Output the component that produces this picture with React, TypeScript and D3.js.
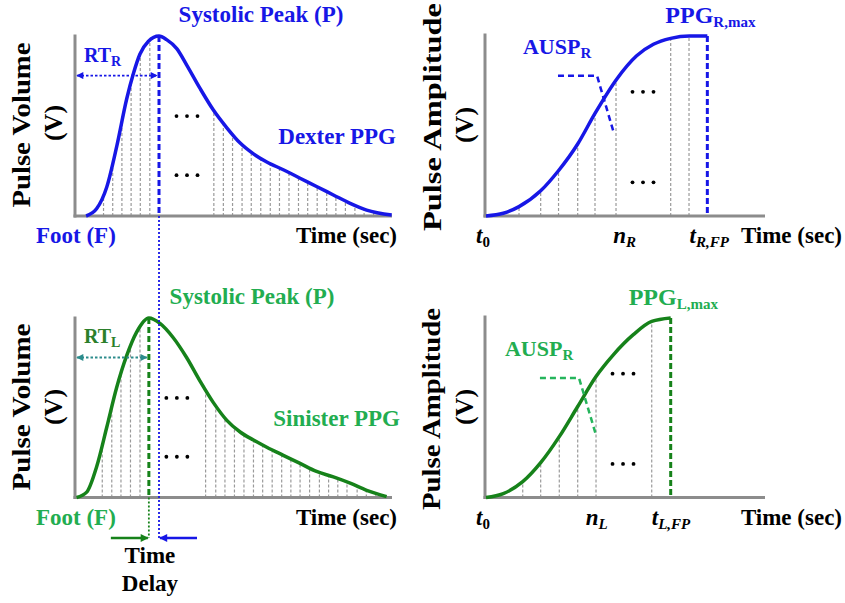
import * as d3 from 'd3';

// ---- values ----
// dexter (right hand) PPG pulse: time in ms, volume normalised to the systolic peak
const dexterTime = [35, 68, 100, 132, 163, 184, 205, 231, 265, 289, 321, 352, 394, 436, 479, 521, 563, 605, 657, 710, 762, 815, 868, 920, 999];
const dexterVolume = [0, 0.04, 0.16, 0.39, 0.65, 0.79, 0.9, 0.97, 1, 0.98, 0.93, 0.84, 0.71, 0.59, 0.49, 0.405, 0.345, 0.3, 0.257, 0.21, 0.164, 0.117, 0.07, 0.033, 0.005];
const dexterSamples = [90, 119, 148, 177, 206, 236, 438, 468, 497, 527, 556, 586, 616, 645, 675, 705, 734, 764, 794, 823, 853, 883, 912, 942, 972];

// sinister (left hand) PPG pulse
const sinisterTime = [5, 37, 68, 100, 131, 163, 194, 233, 268, 310, 352, 394, 436, 479, 521, 563, 605, 657, 710, 762, 815, 868, 920, 983];
const sinisterVolume = [0, 0.03, 0.17, 0.39, 0.61, 0.79, 0.92, 1, 0.97, 0.89, 0.78, 0.65, 0.53, 0.43, 0.365, 0.32, 0.28, 0.235, 0.19, 0.145, 0.115, 0.08, 0.04, 0.005];
const sinisterSamples = [86, 116, 145, 175, 205, 412, 444, 473, 503, 533, 563, 592, 622, 652, 681, 710, 740, 771, 800, 829, 858, 890, 919, 949];

// systolic upstroke, foot to peak (ms, normalised amplitude)
const upDexterTime = [0, 18.6, 35.5, 58.8, 77.7, 98.6, 117.2, 140.5, 162, 180, 198.6, 218.6, 238];
const upDexterAmp = [0, 0.015, 0.052, 0.14, 0.25, 0.4, 0.57, 0.76, 0.89, 0.954, 0.987, 1, 1];
const upDexterSamples = [35.5, 58.8, 78, 98.6, 117.2, 139.8, 198.6, 218.3];
const upDexterPointerT = [77.4, 119.4, 137.6];
const upDexterPointerA = [0.779, 0.779, 0.459];
const upDexterTicks = [0, 149, 240];

const upSinisterTime = [0, 18.6, 39.5, 58.8, 78.8, 98.6, 118.3, 136.9, 158.4, 178.2, 198.6];
const upSinisterAmp = [0, 0.022, 0.088, 0.194, 0.339, 0.507, 0.674, 0.795, 0.907, 0.981, 1];
const upSinisterSamples = [39.5, 58.8, 78.8, 98.6, 118.3, 178.2];
const upSinisterPointerT = [58, 100, 118.3];
const upSinisterPointerA = [0.666, 0.666, 0.348];
const upSinisterTicks = [0, 119, 199];

const FONT = '"Liberation Serif", "Times New Roman", Times, serif';
const BLUE = '#1717e6';
const GREEN = '#16821a';
const GREEN_TEXT = '#22ad50';
const GREEN_DARK = '#2b7f2b';
const TEAL = '#2c8c8c';
const AXIS = '#8c8c8c';
const SAMPLE = '#9a9a9a';

const xPulse = d3.scaleLinear().domain([0, 1000]).range([75, 392]);
const xUp = d3.scaleLinear().domain([0, 300]).range([486, 765]);
const yTopRow = d3.scaleLinear().domain([0, 1]).range([216, 36]);
const yBottomRow = d3.scaleLinear().domain([0, 1]).range([497.5, 318]);
const DELAY_Y = 538;

type Pt = [number, number];
type YScale = d3.ScaleLinear<number, number>;

const Arrowhead = ({ id, color, w = 9, h = 8 }: { id: string; color: string; w?: number; h?: number }) => (
  <marker id={id} viewBox="0 0 10 10" refX="9" refY="5" markerUnits="userSpaceOnUse"
    markerWidth={w} markerHeight={h} orient="auto-start-reverse">
    <path d="M0,0L10,5L0,10z" fill={color} />
  </marker>
);

const Dots = ({ cx, cy }: { cx: number; cy: number }) => (
  <g fill="#000">
    {[-1, 0, 1].map(k => <circle key={k} cx={cx + k * 10.5} cy={cy} r={1.9} />)}
  </g>
);

interface PulseProps {
  id: string; y: YScale; time: number[]; values: number[]; samples: number[];
  color: string; textColor: string; rtColor: string; rtTextColor: string;
  rtSub: string; name: string; nameEnd: number; peakLabelX: number;
}

function PulsePanel(p: PulseProps) {
  const x = xPulse;
  const base = p.y(0);
  const pts: Pt[] = p.time.map((t, i) => [t, p.values[i]]);
  const line = d3.line<Pt>().x(d => x(d[0])).y(d => p.y(d[1])).curve(d3.curveMonotoneX);
  const area = d3.area<Pt>().x(d => x(d[0])).y0(base).y1(d => p.y(d[1])).curve(d3.curveMonotoneX);
  const peakX = x(p.time[d3.maxIndex(p.values)]);
  const top = p.y(1) - 1.5;
  const x0 = x.range()[0];
  const rtY = p.y(0.78);
  return (
    <g>
      <defs><clipPath id={`clip-${p.id}`}><path d={area(pts)!} /></clipPath></defs>
      <g clipPath={`url(#clip-${p.id})`} stroke={SAMPLE} strokeWidth={1.2} strokeDasharray="3,2">
        {p.samples.map(s => <line key={s} x1={x(s)} x2={x(s)} y1={base} y2={top} />)}
      </g>
      <g stroke={AXIS} strokeWidth={3}>
        <line x1={x0} x2={x0} y1={top} y2={base + 1.5} />
        <line x1={x0 - 1.5} x2={x.range()[1]} y1={base} y2={base} />
      </g>
      <path d={line(pts)!} fill="none" stroke={p.color} strokeWidth={3.5} strokeLinejoin="round" />
      <line x1={peakX} x2={peakX} y1={p.y(1)} y2={base} stroke={p.color} strokeWidth={3} strokeDasharray="6,3" />
      <line x1={x0 + 2} x2={peakX - 2} y1={rtY} y2={rtY} stroke={p.rtColor} strokeWidth={1.8} strokeDasharray="2.5,2"
        markerStart={`url(#ah-${p.id})`} markerEnd={`url(#ah-${p.id})`} />
      <Dots cx={peakX + 28} cy={p.y(0.555)} />
      <Dots cx={peakX + 28} cy={p.y(0.227)} />
      <g fontFamily={FONT} fontWeight="bold">
        <text x={x0 + 9} y={rtY - 14} fontSize={20} fill={p.rtTextColor}>RT<tspan dy={4} fontSize={14}>{p.rtSub}</tspan></text>
        <text x={p.peakLabelX} y={base - 194} fontSize={23} fill={p.textColor} textAnchor="middle">Systolic Peak (P)</text>
        <text x={p.nameEnd} y={base - 72} fontSize={23} fill={p.textColor} textAnchor="end">{p.name}</text>
        <text x={36} y={base + 27} fontSize={23} fill={p.textColor}>Foot (F)</text>
        <text x={397} y={base + 27} fontSize={23} fill="#000" textAnchor="end">Time (sec)</text>
      </g>
    </g>
  );
}

interface UpProps {
  id: string; y: YScale; time: number[]; values: number[]; samples: number[];
  pointerT: number[]; pointerA: number[]; ticks: number[];
  color: string; dashColor: string; textColor: string; pointerColor: string; side: string;
}

function UpstrokePanel(p: UpProps) {
  const x = xUp;
  const base = p.y(0);
  const pts: Pt[] = p.time.map((t, i) => [t, p.values[i]]);
  const line = d3.line<Pt>().x(d => x(d[0])).y(d => p.y(d[1])).curve(d3.curveMonotoneX);
  const area = d3.area<Pt>().x(d => x(d[0])).y0(base).y1(d => p.y(d[1])).curve(d3.curveMonotoneX);
  const pointer = d3.line<Pt>().x(d => x(d[0])).y(d => p.y(d[1]));
  const pointerPts: Pt[] = p.pointerT.map((t, i) => [t, p.pointerA[i]]);
  const fpX = x(p.time[p.time.length - 1]);
  const top = p.y(1) - 1.5;
  const x0 = x.range()[0] - 1;
  const nSample = p.samples.filter(s => s < 150).slice(-1)[0];
  const [t0Tick, nTick, fpTick] = p.ticks;
  return (
    <g>
      <defs><clipPath id={`clip-${p.id}`}><path d={area(pts)!} /></clipPath></defs>
      <g clipPath={`url(#clip-${p.id})`} stroke={SAMPLE} strokeWidth={1.2} strokeDasharray="3,2">
        {p.samples.map(s => <line key={s} x1={x(s)} x2={x(s)} y1={base} y2={top - 3} />)}
      </g>
      <g stroke={AXIS} strokeWidth={3}>
        <line x1={x0} x2={x0} y1={top - 1} y2={base + 1.5} />
        <line x1={x0 - 1.5} x2={x.range()[1]} y1={base} y2={base} />
      </g>
      <path d={line(pts)!} fill="none" stroke={p.color} strokeWidth={3.5} strokeLinejoin="round" />
      <line x1={fpX} x2={fpX} y1={p.y(1)} y2={base} stroke={p.dashColor} strokeWidth={3} strokeDasharray="6,3" />
      <path d={pointer(pointerPts)!} fill="none" stroke={p.pointerColor} strokeWidth={2.5} strokeDasharray="6,4" />
      <Dots cx={x(nSample) + 27} cy={p.y(0.69)} />
      <Dots cx={x(nSample) + 27} cy={p.y(0.187)} />
      <g fontFamily={FONT} fontWeight="bold">
        <text x={fpX - 42} y={base - 193} fontSize={24} fill={p.textColor}>PPG<tspan dy={4} fontSize={15}>{`${p.side},max`}</tspan></text>
        <text x={x(p.pointerT[0]) - 35} y={p.y(p.pointerA[0]) - 22} fontSize={22} fill={p.textColor}>AUSP<tspan dy={4} fontSize={15}>R</tspan></text>
        <text x={x(t0Tick) - 3} y={base + 27} fontSize={23} textAnchor="middle"><tspan fontStyle="italic">t</tspan><tspan dy={4} fontSize={15}>0</tspan></text>
        <text x={x(nTick)} y={base + 27} fontSize={23} textAnchor="middle" fontStyle="italic">n<tspan dy={4} fontSize={15}>{p.side}</tspan></text>
        <text x={x(fpTick)} y={base + 27} fontSize={23} textAnchor="middle" fontStyle="italic">t<tspan dy={4} fontSize={15}>{`${p.side},FP`}</tspan></text>
        <text x={842} y={base + 27} fontSize={23} textAnchor="end">Time (sec)</text>
      </g>
    </g>
  );
}

const YLabel = ({ x, y, text, len }: { x: number; y: number; text: string; len?: number }) => (
  <text transform={`translate(${x},${y}) rotate(-90)`} textAnchor="middle" fontFamily={FONT} fontWeight="bold"
    fontSize={26} textLength={len} lengthAdjust={len ? 'spacingAndGlyphs' : undefined}>{text}</text>
);

export default function App() {
  const dexterPeakX = xPulse(dexterTime[d3.maxIndex(dexterVolume)]);
  const sinisterPeakX = xPulse(sinisterTime[d3.maxIndex(sinisterVolume)]);
  const delayMid = (dexterPeakX + sinisterPeakX) / 2 - 4;
  return (
    <svg width={845} height={603} style={{ position: 'absolute', left: 0, top: 0, background: '#fff' }}>
      <defs>
        <Arrowhead id="ah-tl" color={BLUE} w={8} h={7} />
        <Arrowhead id="ah-bl" color={TEAL} w={8} h={7} />
        <Arrowhead id="ah-green" color={GREEN} />
        <Arrowhead id="ah-blue" color={BLUE} />
      </defs>

      <PulsePanel id="tl" y={yTopRow} time={dexterTime} values={dexterVolume} samples={dexterSamples}
        color={BLUE} textColor={BLUE} rtColor={BLUE} rtTextColor={BLUE} rtSub="R"
        name="Dexter PPG" nameEnd={396} peakLabelX={261} />
      <PulsePanel id="bl" y={yBottomRow} time={sinisterTime} values={sinisterVolume} samples={sinisterSamples}
        color={GREEN} textColor={GREEN_TEXT} rtColor={TEAL} rtTextColor={GREEN_DARK} rtSub="L"
        name="Sinister PPG" nameEnd={400} peakLabelX={252} />
      <UpstrokePanel id="tr" y={yTopRow} time={upDexterTime} values={upDexterAmp} samples={upDexterSamples}
        pointerT={upDexterPointerT} pointerA={upDexterPointerA} ticks={upDexterTicks}
        color={BLUE} dashColor={BLUE} textColor={BLUE} pointerColor={BLUE} side="R" />
      <UpstrokePanel id="br" y={yBottomRow} time={upSinisterTime} values={upSinisterAmp} samples={upSinisterSamples}
        pointerT={upSinisterPointerT} pointerA={upSinisterPointerA} ticks={upSinisterTicks}
        color={GREEN} dashColor={GREEN} textColor={GREEN_TEXT} pointerColor="#25b55c" side="L" />

      {/* peak-to-peak guides and the time delay */}
      <line x1={dexterPeakX} x2={dexterPeakX} y1={yTopRow(0)} y2={DELAY_Y} stroke={BLUE} strokeWidth={1.8} strokeDasharray="2,2" />
      <line x1={sinisterPeakX} x2={sinisterPeakX} y1={yBottomRow(0)} y2={DELAY_Y} stroke={GREEN} strokeWidth={1.8} strokeDasharray="2,2" />
      <line x1={sinisterPeakX - 38} x2={sinisterPeakX - 1} y1={DELAY_Y} y2={DELAY_Y} stroke={GREEN} strokeWidth={2.5} markerEnd="url(#ah-green)" />
      <line x1={dexterPeakX + 38} x2={dexterPeakX + 1} y1={DELAY_Y} y2={DELAY_Y} stroke={BLUE} strokeWidth={2.5} markerEnd="url(#ah-blue)" />
      <g fontFamily={FONT} fontWeight="bold" fontSize={23} textAnchor="middle">
        <text x={delayMid} y={563}>Time</text>
        <text x={delayMid} y={591}>Delay</text>
      </g>

      <YLabel x={30} y={125} text="Pulse Volume" len={165} />
      <YLabel x={62} y={123} text="(V)" />
      <YLabel x={30} y={407} text="Pulse Volume" len={167} />
      <YLabel x={62} y={407} text="(V)" />
      <YLabel x={441} y={117} text="Pulse Amplitude" len={228} />
      <YLabel x={473} y={125} text="(V)" />
      <YLabel x={440} y={409} text="Pulse Amplitude" len={202} />
      <YLabel x={473} y={407} text="(V)" />
    </svg>
  );
}
